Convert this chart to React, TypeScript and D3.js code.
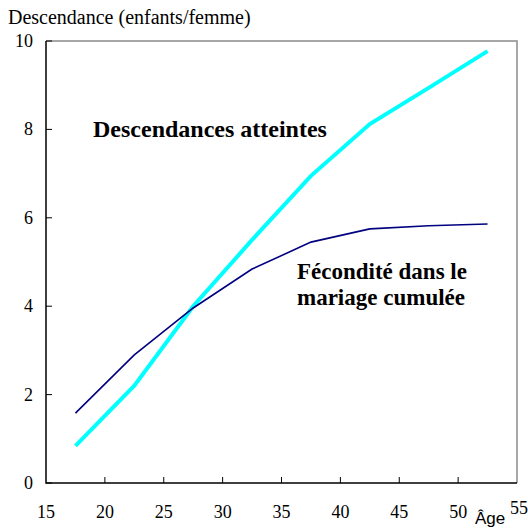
import React from 'react';
import * as d3 from 'd3';

const ages = [17.5, 22.5, 27.5, 32.5, 37.5, 42.5, 47.5, 52.5];
const descendances = [0.84, 2.2, 4.0, 5.5, 6.95, 8.12, 8.94, 9.77];
const feconditeCumulee = [1.58, 2.9, 3.96, 4.84, 5.45, 5.75, 5.82, 5.86];
const xTicks = [15, 20, 25, 30, 35, 40, 45, 50, 55];
const yTicks = [0, 2, 4, 6, 8, 10];

const W = 528;
const H = 529;
const serif = 'Liberation Serif';
const sans = 'Liberation Sans';

const left = 46, right = 517, top = 41, bottom = 483;
const x = d3.scaleLinear().domain([15, 55]).range([left, right]);
const y = d3.scaleLinear().domain([0, 10]).range([bottom, top]);

const line = (vals: number[]) =>
  d3.line<number>().x((_, i) => x(ages[i])).y(d => y(d))(vals) || '';

const App = () => {
  const lastTick = xTicks[xTicks.length - 1];
  return (
    <svg width={W} height={H} style={{ position: 'absolute', left: 0, top: 0 }}>
      <rect width={W} height={H} fill="#fff" />
      <g fontFamily={serif}>
        <text x={8} y={24} fontSize={20}>
          Descendance (enfants/femme)
        </text>

        {/* frame: grey top and right */}
        <path
          d={`M${left},${top}H${right}V${bottom}`}
          fill="none"
          stroke="#8a8a8a"
          strokeWidth={1.5}
        />
        {/* axes */}
        <path d={`M${left},${top}V${bottom}H${right}`} fill="none" stroke="#000" strokeWidth={1.5} />

        {yTicks.map(t => (
          <g key={'y' + t}>
            <line x1={left} x2={left + 6} y1={y(t)} y2={y(t)} stroke="#000" />
            <text x={33} y={y(t) + 6} textAnchor="end" fontSize={18}>
              {t}
            </text>
          </g>
        ))}

        {xTicks.map(t => (
          <g key={'x' + t}>
            {t !== lastTick && t !== 15 && (
              <line x1={x(t)} x2={x(t)} y1={bottom} y2={bottom - 6} stroke="#000" />
            )}
            {t !== lastTick && (
              <text x={x(t)} y={518} textAnchor="middle" fontSize={18}>
                {t}
              </text>
            )}
          </g>
        ))}
        {/* last tick label raised beside the axis title */}
        <text x={528} y={514} textAnchor="end" fontSize={18}>
          {lastTick}
        </text>
        <text x={490} y={524} textAnchor="middle" fontSize={17} fontFamily={sans}>
          Âge
        </text>

        <path d={line(descendances)} fill="none" stroke="#00ffff" strokeWidth={4} />
        <path d={line(feconditeCumulee)} fill="none" stroke="#000080" strokeWidth={1.6} />

        <text x={93} y={137} fontSize={24} fontWeight="bold">
          Descendances atteintes
        </text>
        <text x={297} y={279} fontSize={23} fontWeight="bold">
          Fécondité dans le
        </text>
        <text x={297} y={305} fontSize={23} fontWeight="bold">
          mariage cumulée
        </text>
      </g>
    </svg>
  );
};

export default App;
